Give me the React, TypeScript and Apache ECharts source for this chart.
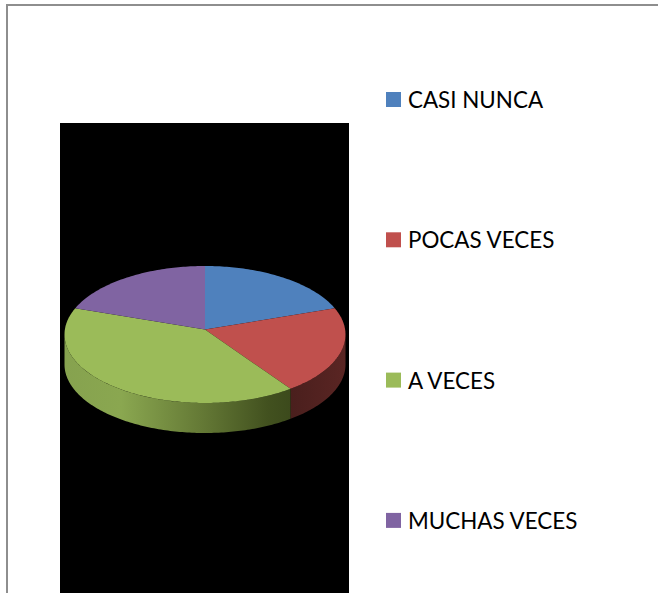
import React, { useEffect, useRef } from "react";
import * as echarts from "echarts";

const categories = ["CASI NUNCA", "POCAS VECES", "A VECES", "MUCHAS VECES"];
const values = [9, 10, 20, 9];
const colors = ["#4F81BD", "#C0504D", "#9BBB59", "#8064A2"];
const sideStops: (null | [number, string][])[] = [
  null,
  [[0, "#4A1F1D"], [1, "#5A2523"]],
  [[0, "#86A24F"], [0.25, "#8AA750"], [0.6, "#657A36"], [0.9, "#42511F"], [1, "#3C4A1C"]],
  null,
];

const total = values.reduce((a, b) => a + b, 0);
const CX = 205, CY = 334.5, APEX_Y = 329.5, RX = 140.5, RY = 68.5, DEPTH = 30;

const pt = (deg: number, dy = 0): number[] => {
  const t = (deg * Math.PI) / 180;
  return [CX + RX * Math.sin(t), CY - RY * Math.cos(t) + dy];
};
const arc = (a: number, b: number, dy = 0): number[][] => {
  const out: number[][] = [];
  const n = Math.max(2, Math.ceil(b - a));
  for (let i = 0; i <= n; i++) out.push(pt(a + ((b - a) * i) / n, dy));
  return out;
};

const makeSeries = (name: string, i: number) => {
  const start = (values.slice(0, i).reduce((a, b) => a + b, 0) / total) * 360;
  return {
    type: "custom",
    name,
    coordinateSystem: "none",
    silent: true,
    itemStyle: { color: colors[i] },
    data: [[values[i]]],
    renderItem: (_p: any, api: any) => {
      const end = start + (api.value(0) / total) * 360;
      const children: any[] = [];
      const a = Math.max(start, 90), b = Math.min(end, 270);
      const stops = sideStops[i];
      if (stops && b > a) {
        children.push({
          type: "polygon",
          shape: { points: [...arc(a, b), ...arc(a, b, DEPTH).reverse()] },
          style: {
            fill: new echarts.graphic.LinearGradient(0, 0, 1, 0,
              stops.map(([offset, color]) => ({ offset, color }))),
          },
        });
      }
      children.push({
        type: "polygon",
        shape: { points: [[CX, APEX_Y], ...arc(start, end)] },
        style: { fill: colors[i] },
      });
      return { type: "group", children };
    },
  };
};

export default function App() {
  const ref = useRef<HTMLDivElement>(null);
  useEffect(() => {
    document.body.style.margin = "0";
    document.body.style.overflow = "hidden";
    const chart = echarts.init(ref.current!, undefined, { renderer: "svg" });
    chart.setOption({
      animation: false,
      backgroundColor: "#ffffff",
      graphic: [
        { type: "rect", z: 0, shape: { x: 6, y: 4, width: 652, height: 2 }, style: { fill: "#8E8E8E" } },
        { type: "rect", z: 0, shape: { x: 6, y: 4, width: 2, height: 589 }, style: { fill: "#8E8E8E" } },
        { type: "rect", z: 0, shape: { x: 60, y: 123, width: 289, height: 470 }, style: { fill: "#000000" } },
      ],
      legend: {
        orient: "vertical",
        left: 381,
        top: 80,
        icon: "rect",
        itemWidth: 15,
        itemHeight: 15,
        itemGap: 111.3,
        selectedMode: false,
        data: categories,
        textStyle: { fontFamily: "Lato", fontSize: 22.4, color: "#000000", padding: [0, 0, 0, 2], lineHeight: 29 },
      },
      series: categories.map(makeSeries),
    });
    return () => chart.dispose();
  }, []);
  return <div ref={ref} style={{ width: 658, height: 593 }} />;
}
